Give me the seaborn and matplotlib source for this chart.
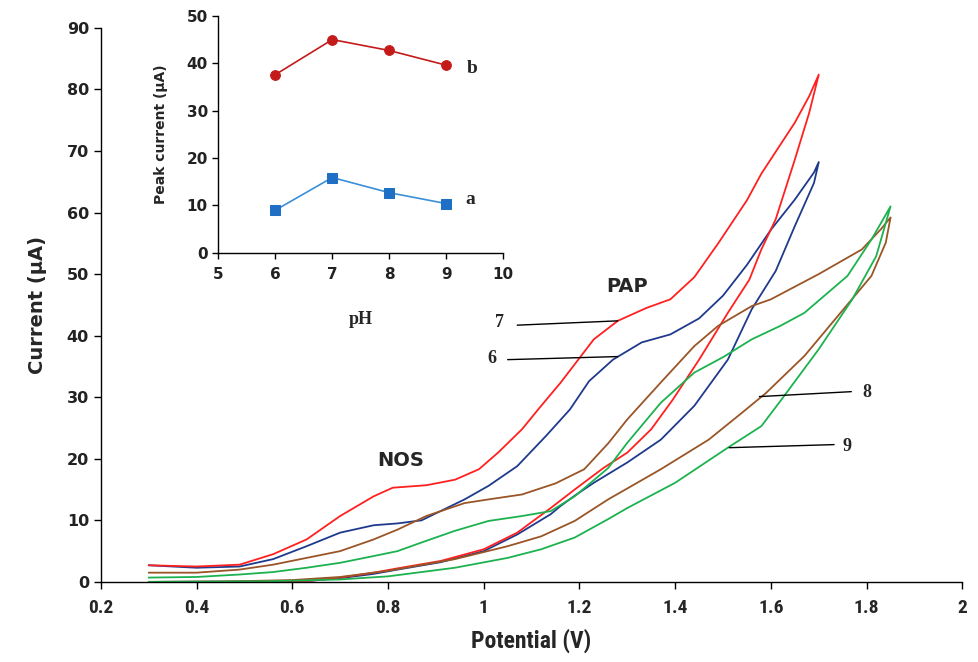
import numpy as np
import pandas as pd
import matplotlib
matplotlib.use("Agg")
import matplotlib.pyplot as plt
from matplotlib import font_manager
import seaborn as sns

# ---- Cyclic voltammograms at different pH (forward branch, then reverse branch) ----
ph7_fwd_E = [0.30, 0.40, 0.49, 0.56, 0.63, 0.70, 0.77, 0.81, 0.88, 0.94, 0.99, 1.03, 1.08,
             1.12, 1.16, 1.23, 1.28, 1.34, 1.39, 1.44, 1.49, 1.55, 1.58, 1.65, 1.68, 1.70]
ph7_fwd_I = [2.7, 2.5, 2.8, 4.5, 6.9, 10.7, 13.9, 15.3, 15.7, 16.6, 18.3, 21.0, 24.8,
             28.6, 32.3, 39.4, 42.4, 44.5, 45.9, 49.5, 55.0, 62.0, 66.3, 74.6, 78.9, 82.4]
ph7_rev_E = [1.68, 1.65, 1.61, 1.58, 1.555, 1.51, 1.45, 1.395, 1.35, 1.30, 1.25, 1.19,
             1.14, 1.07, 1.00, 0.91, 0.82, 0.77, 0.70, 0.64, 0.50, 0.30]
ph7_rev_I = [76.2, 68.6, 58.9, 54.0, 49.1, 43.7, 36.1, 29.6, 24.8, 21.0, 18.5, 15.0,
             12.0, 8.0, 5.3, 3.4, 2.2, 1.5, 0.7, 0.2, 0.05, 0.0]

ph6_fwd_E = [0.30, 0.40, 0.49, 0.56, 0.63, 0.70, 0.77, 0.82, 0.87, 0.96, 1.01, 1.07, 1.13,
             1.18, 1.22, 1.27, 1.33, 1.39, 1.45, 1.50, 1.55, 1.60, 1.65, 1.69, 1.70]
ph6_fwd_I = [2.7, 2.3, 2.5, 3.7, 5.8, 8.0, 9.2, 9.5, 10.0, 13.4, 15.6, 18.8, 23.7,
             28.0, 32.6, 36.1, 38.9, 40.2, 42.8, 46.5, 51.5, 57.2, 62.1, 66.5, 68.2]
ph6_rev_E = [1.69, 1.65, 1.61, 1.56, 1.51, 1.44, 1.37, 1.30, 1.23, 1.19, 1.16, 1.14,
             1.07, 1.00, 0.91, 0.82, 0.77, 0.70, 0.64, 0.50, 0.30]
ph6_rev_I = [64.8, 57.8, 50.5, 44.3, 36.1, 28.6, 23.1, 19.4, 16.1, 14.0, 12.3, 11.0,
             7.7, 5.0, 3.2, 2.0, 1.3, 0.6, 0.2, 0.05, 0.0]

ph8_fwd_E = [0.30, 0.40, 0.49, 0.56, 0.63, 0.70, 0.77, 0.82, 0.88, 0.96, 1.01, 1.08, 1.15,
             1.21, 1.26, 1.30, 1.37, 1.44, 1.49, 1.56, 1.60, 1.70, 1.79, 1.83, 1.85]
ph8_fwd_I = [1.5, 1.5, 2.0, 2.8, 3.9, 5.0, 6.9, 8.5, 10.7, 12.8, 13.4, 14.2, 16.0,
             18.3, 22.5, 26.4, 32.4, 38.3, 41.6, 44.8, 45.9, 50.0, 54.0, 57.3, 59.2]
ph8_rev_E = [1.84, 1.81, 1.74, 1.67, 1.59, 1.54, 1.47, 1.37, 1.26, 1.19, 1.12, 1.05,
             0.94, 0.80, 0.70, 0.60, 0.45, 0.30]
ph8_rev_I = [55.1, 49.7, 43.2, 36.7, 30.7, 27.5, 23.1, 18.3, 13.4, 9.9, 7.4, 5.8,
             3.7, 1.8, 0.8, 0.3, 0.05, 0.0]

ph9_fwd_E = [0.30, 0.40, 0.49, 0.56, 0.63, 0.70, 0.77, 0.82, 0.87, 0.94, 1.01, 1.08, 1.14,
             1.19, 1.26, 1.30, 1.37, 1.44, 1.50, 1.56, 1.62, 1.67, 1.76, 1.81, 1.85]
ph9_fwd_I = [0.7, 0.8, 1.2, 1.6, 2.3, 3.1, 4.2, 5.0, 6.4, 8.3, 9.9, 10.7, 11.5,
             13.9, 18.5, 22.6, 29.1, 34.0, 36.5, 39.4, 41.6, 43.7, 49.7, 55.6, 61.0]
ph9_rev_E = [1.82, 1.77, 1.70, 1.62, 1.58, 1.51, 1.40, 1.30, 1.26, 1.19, 1.12, 1.05,
             0.94, 0.80, 0.70, 0.55, 0.30]
ph9_rev_I = [52.9, 45.9, 37.8, 29.4, 25.3, 21.8, 16.1, 12.0, 10.2, 7.2, 5.3, 3.9,
             2.3, 0.9, 0.4, 0.1, 0.0]

# ---- Inset: peak current vs pH ----
inset_ph = [6, 7, 8, 9]
peak_a = [9.0, 15.9, 12.7, 10.4]
peak_b = [37.6, 45.0, 42.7, 39.6]

curve_colors = {"6": "#1f3a8c", "7": "#ff2020", "8": "#9a5527", "9": "#1cb24f"}

frames = []
for ph, fe, fi, re_, ri in [
    ("6", ph6_fwd_E, ph6_fwd_I, ph6_rev_E, ph6_rev_I),
    ("7", ph7_fwd_E, ph7_fwd_I, ph7_rev_E, ph7_rev_I),
    ("8", ph8_fwd_E, ph8_fwd_I, ph8_rev_E, ph8_rev_I),
    ("9", ph9_fwd_E, ph9_fwd_I, ph9_rev_E, ph9_rev_I),
]:
    frames.append(pd.DataFrame({"E": list(fe) + list(re_),
                                "I": list(fi) + list(ri),
                                "pH": ph}))
cv = pd.concat(frames, ignore_index=True)

sns.set_theme(style="white")
plt.rcParams["font.family"] = ["DejaVu Sans"]

# a narrow sans face for the potential axis, if one is available
installed = {f.name for f in font_manager.fontManager.ttflist}
narrow = None
for cand in ["Liberation Sans Narrow", "Roboto Condensed", "Open Sans Condensed",
             "DejaVu Sans Condensed"]:
    if cand in installed:
        narrow = cand
        break
if narrow is None:
    narrow_kw = dict(family=["DejaVu Sans"], fontstretch="condensed")
else:
    narrow_kw = dict(family=[narrow, "DejaVu Sans"])

fig = plt.figure(figsize=(9.79, 6.62), dpi=100)
ax = fig.add_axes([0.103, 0.121, 0.880, 0.837])

sns.lineplot(data=cv, x="E", y="I", hue="pH", palette=curve_colors, sort=False,
             estimator=None, legend=False, linewidth=1.3, ax=ax)

ax.set_xlim(0.2, 2.0)
ax.set_ylim(0, 90)
ax.set_xticks(np.arange(0.2, 2.01, 0.2))
ax.set_xticklabels(["0.2", "0.4", "0.6", "0.8", "1", "1.2", "1.4", "1.6", "1.8", "2"],
                   fontweight="bold", fontsize=14, **narrow_kw)
ax.set_yticks(np.arange(0, 91, 10))
ax.set_yticklabels([str(v) for v in range(0, 91, 10)], fontweight="bold", fontsize=11.5,
                   color="#222222")
for side in ("top", "right"):
    ax.spines[side].set_visible(False)
for side in ("left", "bottom"):
    ax.spines[side].set_color("black")
    ax.spines[side].set_linewidth(1.0)
ax.tick_params(axis="both", direction="out", length=5, width=1, color="black", bottom=True, left=True)
ax.tick_params(axis="x", pad=7)
ax.set_xlabel("Potential (V)", fontweight="bold", fontsize=17, labelpad=9, **narrow_kw)
ax.set_ylabel("Current (µA)", fontweight="bold", fontsize=14, labelpad=14)

# peak annotations
ax.text(0.826, 19.7, "NOS", fontweight="bold", fontsize=14, ha="center", va="center")
ax.text(1.30, 48.0, "PAP", fontweight="bold", fontsize=14, ha="center", va="center")

serif = ["Liberation Serif", "DejaVu Serif"]
callouts = [("7", 1.033, 42.2, (1.07, 1.28), (41.7, 42.4)),
            ("6", 1.016, 36.3, (1.05, 1.28), (36.1, 36.6)),
            ("8", 1.801, 30.8, (1.576, 1.768), (30.1, 30.9)),
            ("9", 1.759, 22.0, (1.513, 1.732), (21.8, 22.3))]
for lab, tx, ty, lx, ly in callouts:
    ax.text(tx, ty, lab, family=serif, fontweight="bold", fontsize=13, ha="center", va="center")
    ax.plot(lx, ly, color="black", linewidth=1.0)

# ---- inset ----
ins = fig.add_axes([0.223, 0.618, 0.291, 0.358])
ins.patch.set_alpha(0)
sns.lineplot(x=inset_ph, y=peak_b, color="#c41a1a", marker="o", markersize=7,
             markeredgecolor="#c41a1a", linewidth=1.2, ax=ins)
sns.lineplot(x=inset_ph, y=peak_a, color="#3a8fd8", marker="s", markersize=7,
             markerfacecolor="#1f6fc4", markeredgecolor="#1f6fc4", linewidth=1.2, ax=ins)
ins.set_xlim(5, 10)
ins.set_ylim(0, 50)
ins.set_xticks(range(5, 11))
ins.set_yticks(range(0, 51, 10))
for side in ("top", "right"):
    ins.spines[side].set_visible(False)
for side in ("left", "bottom"):
    ins.spines[side].set_color("black")
    ins.spines[side].set_linewidth(1.0)
ins.tick_params(axis="both", direction="out", length=4, width=1, color="black",
                labelsize=11, bottom=True, left=True)
ins.tick_params(axis="x", pad=6)
for t in ins.get_xticklabels() + ins.get_yticklabels():
    t.set_fontweight("bold")
    t.set_color("#222222")
ins.set_ylabel("Peak current (µA)", fontsize=10, fontweight="bold", labelpad=13)
ins.set_xlabel("")
ins.text(0.5, -0.28, "pH", transform=ins.transAxes, family=serif, fontweight="bold",
         fontsize=13, ha="center", va="center")
ins.text(9.45, 39.0, "b", family=serif, fontweight="bold", fontsize=14, ha="center", va="center")
ins.text(9.42, 11.3, "a", family=serif, fontweight="bold", fontsize=14, ha="center", va="center")

fig.savefig("out.png", dpi=100)
